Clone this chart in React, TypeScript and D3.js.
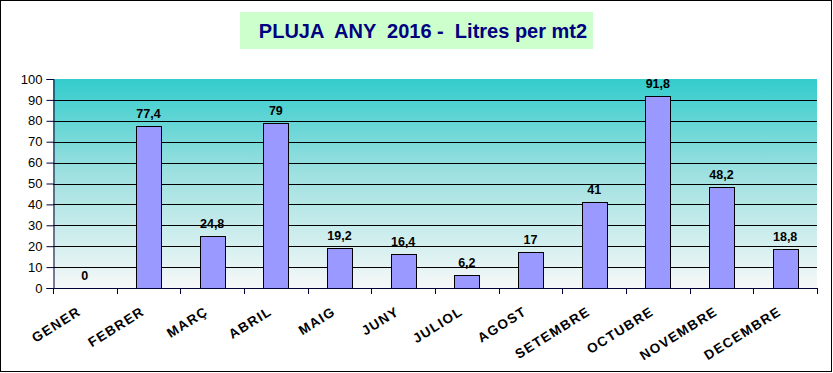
import React, { useEffect, useRef } from 'react';
import * as d3 from 'd3';

const months = ['GENER', 'FEBRER', 'MARÇ', 'ABRIL', 'MAIG', 'JUNY', 'JULIOL', 'AGOST', 'SETEMBRE', 'OCTUBRE', 'NOVEMBRE', 'DECEMBRE'];
const rainfall = [0, 77.4, 24.8, 79, 19.2, 16.4, 6.2, 17, 41, 91.8, 48.2, 18.8];
const yTicks = [0, 10, 20, 30, 40, 50, 60, 70, 80, 90, 100];
const title = 'PLUJA  ANY  2016 -  Litres per mt2';

const W = 833;
const H = 373;
const FONT = 'Arial, Liberation Sans, sans-serif';

const App: React.FC = () => {
  const svgRef = useRef<SVGSVGElement>(null);

  useEffect(() => {
    if (!svgRef.current) return;
    const svg = d3.select(svgRef.current);
    svg.selectAll('*').remove();

    const left = 53, right = 817, top = 79, bottom = 288;

    const x = d3.scaleBand<string>().domain(months).range([left, right]).paddingInner(0).paddingOuter(0);
    const y = d3.scaleLinear().domain([0, 100]).range([bottom, top]);

    // outer frame
    svg.append('rect')
      .attr('x', 0.5).attr('y', 0.5)
      .attr('width', W - 2).attr('height', H - 2)
      .attr('fill', 'white')
      .attr('stroke', 'black')
      .attr('stroke-width', 1);

    // title box
    svg.append('rect')
      .attr('x', 240).attr('y', 12)
      .attr('width', 353).attr('height', 37)
      .attr('fill', '#CCFFCC');

    svg.append('text')
      .attr('x', 423).attr('y', 38)
      .attr('text-anchor', 'middle')
      .attr('font-family', FONT)
      .attr('font-size', '20px')
      .attr('font-weight', 'bold')
      .attr('fill', '#000080')
      .style('white-space', 'pre')
      .text(title);

    // background gradient
    const defs = svg.append('defs');
    const grad = defs.append('linearGradient')
      .attr('id', 'bg').attr('x1', 0).attr('y1', 0).attr('x2', 0).attr('y2', 1);
    grad.append('stop').attr('offset', '0%').attr('stop-color', '#33CCCC');
    grad.append('stop').attr('offset', '45%').attr('stop-color', '#9EE0E0');
    grad.append('stop').attr('offset', '100%').attr('stop-color', '#F6F8F8');

    svg.append('rect')
      .attr('x', left).attr('y', top)
      .attr('width', right - left).attr('height', bottom - top)
      .attr('fill', 'url(#bg)');

    // gridlines
    svg.append('g')
      .selectAll('line')
      .data(yTicks.filter(t => t > 0 && t < 100))
      .enter()
      .append('line')
      .attr('x1', left).attr('x2', right)
      .attr('y1', d => Math.round(y(d)) + 0.5)
      .attr('y2', d => Math.round(y(d)) + 0.5)
      .attr('stroke', 'black')
      .attr('stroke-width', 1);

    // bars
    const barW = 25;
    svg.append('g')
      .selectAll('rect')
      .data(rainfall)
      .enter()
      .append('rect')
      .attr('x', (d, i) => Math.round((x(months[i]) as number) + x.bandwidth() / 2 - barW / 2) + 0.5)
      .attr('y', d => Math.round(y(d)) + 0.5)
      .attr('width', barW)
      .attr('height', d => Math.max(0, Math.round(bottom - y(d))))
      .attr('fill', '#9999FF')
      .attr('stroke', 'black')
      .attr('stroke-width', 1)
      .style('display', d => (d > 0 ? null : 'none'));

    // value labels
    svg.append('g')
      .selectAll('text')
      .data(rainfall)
      .enter()
      .append('text')
      .attr('x', (d, i) => (x(months[i]) as number) + x.bandwidth() / 2)
      .attr('y', d => y(d) - 8)
      .attr('text-anchor', 'middle')
      .attr('font-family', FONT)
      .attr('font-size', '12.5px')
      .attr('font-weight', 'bold')
      .attr('fill', 'black')
      .text(d => String(d).replace('.', ','));

    // y axis
    const yAxis = d3.axisLeft(y).tickValues(yTicks).tickSize(7).tickPadding(4);
    const yg = svg.append('g')
      .attr('transform', `translate(${left + 0.5},0)`)
      .call(yAxis);
    yg.select('.domain').attr('stroke', '#000033');
    yg.selectAll('.tick line').attr('stroke', '#000033');
    yg.selectAll('.tick text')
      .attr('font-family', FONT)
      .attr('font-size', '13px')
      .attr('fill', 'black');

    // x axis: ticks at category boundaries
    const boundaries = d3.range(months.length + 1).map(i => left + i * x.step());
    const xg = svg.append('g');
    xg.append('line')
      .attr('x1', left).attr('x2', right)
      .attr('y1', bottom + 0.5).attr('y2', bottom + 0.5)
      .attr('stroke', '#000033');
    xg.selectAll('line.tk')
      .data(boundaries)
      .enter()
      .append('line')
      .attr('class', 'tk')
      .attr('x1', d => Math.round(d) + 0.5).attr('x2', d => Math.round(d) + 0.5)
      .attr('y1', bottom).attr('y2', bottom + 6)
      .attr('stroke', '#000033');

    xg.selectAll('text')
      .data(months)
      .enter()
      .append('text')
      .attr('transform', d => `translate(${(x(d) as number) + x.bandwidth() / 2 - 3},314) rotate(-32)`)
      .attr('text-anchor', 'end')
      .attr('font-family', FONT)
      .attr('font-size', '13.5px')
      .attr('font-weight', 'bold')
      .attr('letter-spacing', '1.3px')
      .attr('fill', 'black')
      .text(d => d);
  }, []);

  return (
    <div style={{ position: 'absolute', left: 0, top: 0 }}>
      <svg ref={svgRef} width={W} height={H} style={{ display: 'block' }} />
    </div>
  );
};

export default App;
